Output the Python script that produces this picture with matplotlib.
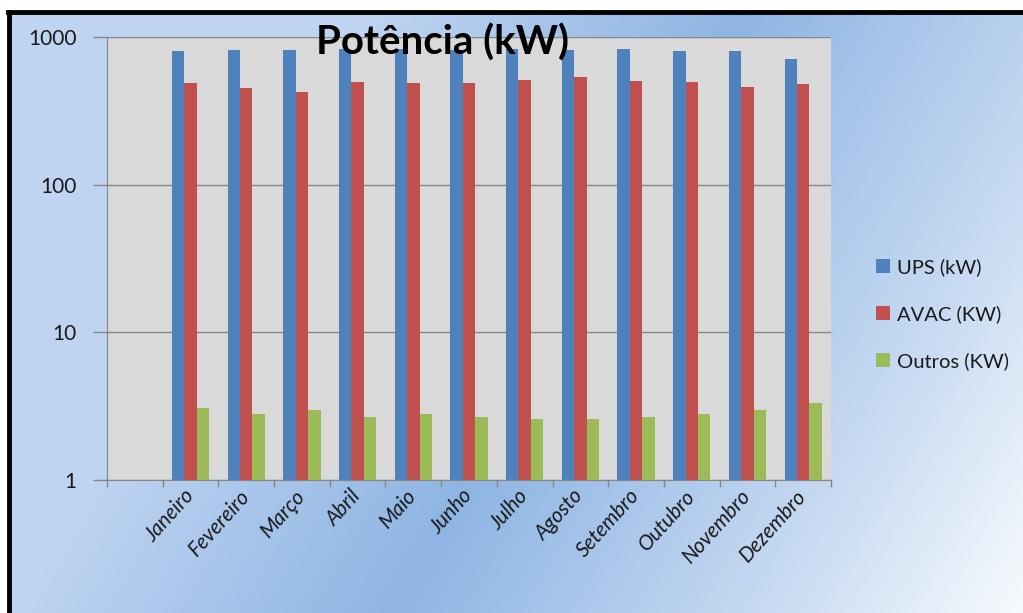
import matplotlib
matplotlib.use("Agg")
import matplotlib.pyplot as plt
from matplotlib.lines import Line2D
import numpy as np

# data (log scale, kW)
meses = ["", "Janeiro", "Fevereiro", "Março", "Abril", "Maio", "Junho", "Julho",
         "Agosto", "Setembro", "Outubro", "Novembro", "Dezembro"]
ups = [np.nan, 807, 815, 815, 824, 824, 815, 832, 815, 828, 804, 804, 708]
avac = [np.nan, 485, 453, 424, 493, 485, 485, 511, 538, 503, 493, 460, 478]
outros = [np.nan, 3.07, 2.79, 2.98, 2.68, 2.79, 2.68, 2.59, 2.59, 2.68, 2.79, 2.98, 3.31]
series_names = ["UPS (kW)", "AVAC (KW)", "Outros (KW)"]
colors = ["#4f81bd", "#c0504d", "#9bbb59"]

plt.rcParams['font.family'] = ['Lato', 'DejaVu Sans']

W, H = 1023, 613
fig = plt.figure(figsize=(W / 100, H / 100), dpi=100, facecolor="white")

# gradient background inside the black frame
bg = fig.add_axes([8 / W, 0, 1 - 8 / W, 1 - 11 / H], zorder=-10)
gx, gy = np.meshgrid(np.linspace(0, 1, 400), np.linspace(0, 1, 250))
u = gx - 0.35 * (1 - gy)  # gy=0 top, gy=1 bottom
stops_u = [-0.35, 0.0, 0.38, 0.75, 1.0]
stops_c = np.array([[190, 212, 240], [192, 213, 241], [142, 181, 227],
                    [200, 219, 242], [247, 250, 253]]) / 255.0
img = np.zeros(u.shape + (3,))
for k in range(3):
    img[..., k] = np.interp(u, stops_u, stops_c[:, k])
bg.imshow(img, aspect="auto", extent=[0, 1, 1, 0])
bg.set_axis_off()

# black frame (top and left edges visible)
fig.add_artist(Line2D([8 / W, 1], [1 - 11.5 / H, 1 - 11.5 / H], color="black", lw=3.5,
                      transform=fig.transFigure))
fig.add_artist(Line2D([8.5 / W, 8.5 / W], [0, 1 - 11.5 / H], color="black", lw=3.5,
                      transform=fig.transFigure))

ax = fig.add_axes([107 / W, 1 - 480 / H, 724 / W, 443 / H])
ax.set_facecolor("#d9d9d9")

x = np.arange(len(meses))
bw = 0.223
for i, (vals, name, c) in enumerate(zip([ups, avac, outros], series_names, colors)):
    ax.bar(x + (i - 1) * bw, vals, width=bw, color=c, label=name, zorder=3)

ax.set_yscale("log")
ax.set_ylim(1, 1000)
ax.set_xlim(-0.5, len(meses) - 0.5)
ax.yaxis.set_major_locator(matplotlib.ticker.FixedLocator([1, 10, 100, 1000]))
ax.yaxis.set_minor_locator(matplotlib.ticker.NullLocator())
ax.yaxis.set_major_formatter(matplotlib.ticker.FixedFormatter(["1", "10", "100", "1000"]))
ax.grid(axis="y", color="#868686", lw=1, zorder=1)
ax.tick_params(axis="y", length=10, width=1, color="#868686", labelsize=15,
               labelcolor="#1a1a1a", pad=12)

ax.set_xticks(np.arange(len(meses) + 1) - 0.5)
ax.set_xticklabels([])
ax.set_xticks(x, minor=True)
ax.set_xticklabels(meses, minor=True, rotation=48, ha="right", rotation_mode="anchor",
                   style="italic", fontsize=15, color="#1a1a1a")
ax.tick_params(axis="x", which="minor", length=0, pad=9)
ax.tick_params(axis="x", which="major", length=5, color="#868686", width=1)
for lab in ax.get_xticklabels(minor=True):
    lab.set_va("center")

for s in ["top", "right"]:
    ax.spines[s].set_visible(False)
for s in ["left", "bottom"]:
    ax.spines[s].set_color("#868686")

fig.text(443 / W, 1 - 43 / H, "Potência (kW)", ha="center", va="center",
         fontsize=29, fontweight="bold", color="black")

fig.legend(loc="center left", bbox_to_anchor=(858 / W, 1 - 314 / H), frameon=False,
           fontsize=14.5, labelspacing=1.45, handlelength=0.7, handleheight=0.7,
           handletextpad=0.35, labelcolor="#1a1a1a")

fig.savefig("out.png", dpi=100, facecolor="white")
